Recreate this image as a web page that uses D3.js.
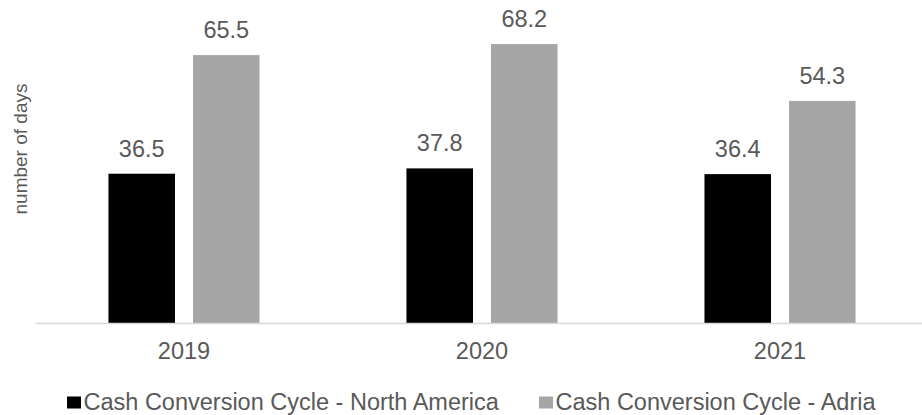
<!DOCTYPE html>
<html>
<head>
<meta charset="utf-8">
<script src="https://cdn.jsdelivr.net/npm/d3@7"></script>
<style>
  html, body { margin: 0; padding: 0; background: #fff; }
  svg { display: block; font-family: "Liberation Sans", Arial, sans-serif; }
</style>
</head>
<body>
<svg id="chart" width="922" height="415"></svg>
<script>
// Cash conversion cycle, in days
const years = ["2019", "2020", "2021"];
const seriesNames = ["Cash Conversion Cycle - North America", "Cash Conversion Cycle - Adria"];
const northAmerica = [36.5, 37.8, 36.4];
const adria = [65.5, 68.2, 54.3];
const seriesColors = ["#000000", "#a6a6a6"];
const yTitle = "number of days";

const svg = d3.select("#chart");
const baseY = 323;
const textColor = "#595959";
const fontSize = 23.5;

const x0 = d3.scaleBand().domain(years).range([35, 929]).paddingInner(0.493).paddingOuter(0.2465);
const x1 = d3.scaleBand().domain(seriesNames).range([0, x0.bandwidth()]).paddingInner(0.213);
const y = d3.scaleLinear().domain([0, 80]).range([baseY, baseY - 80 * 4.09]);

const rows = years.map((yr, i) => ({
  year: yr,
  values: [
    { name: seriesNames[0], value: northAmerica[i], color: seriesColors[0] },
    { name: seriesNames[1], value: adria[i], color: seriesColors[1] }
  ]
}));

// bars
const groups = svg.append("g").selectAll("g").data(rows).join("g")
  .attr("transform", d => `translate(${x0(d.year)},0)`);

groups.selectAll("rect").data(d => d.values).join("rect")
  .attr("x", d => x1(d.name))
  .attr("y", d => y(d.value))
  .attr("width", x1.bandwidth())
  .attr("height", d => baseY - y(d.value))
  .attr("fill", d => d.color);

// value labels
groups.selectAll("text").data(d => d.values).join("text")
  .attr("x", d => x1(d.name) + x1.bandwidth() / 2)
  .attr("y", d => y(d.value) - 17)
  .attr("text-anchor", "middle")
  .attr("font-size", fontSize)
  .attr("fill", textColor)
  .text(d => d.value.toFixed(1));

// category axis
const xAxis = svg.append("g").attr("transform", `translate(0,${baseY})`)
  .call(d3.axisBottom(x0).tickSize(0).tickPadding(19.5));
xAxis.select(".domain").attr("stroke", "#d9d9d9").attr("stroke-width", 1.5);
xAxis.selectAll("text")
  .attr("font-size", fontSize)
  .attr("font-family", "Liberation Sans, Arial, sans-serif")
  .attr("fill", textColor)
  .attr("dy", "0.71em");

// y axis title
svg.append("text")
  .attr("transform", `translate(26.5,149) rotate(-90)`)
  .attr("text-anchor", "middle")
  .attr("font-size", 19)
  .attr("fill", textColor)
  .text(yTitle);

// legend
const legendX = [67, 539];
const legend = svg.append("g").selectAll("g").data(seriesNames).join("g")
  .attr("transform", (d, i) => `translate(${legendX[i]},0)`);
legend.append("rect")
  .attr("x", 0).attr("y", 396.5)
  .attr("width", 14).attr("height", 12)
  .attr("fill", (d, i) => seriesColors[i]);
legend.append("text")
  .attr("x", 16.5).attr("y", 409.5)
  .attr("font-size", fontSize)
  .attr("fill", textColor)
  .text(d => d);
</script>
</body>
</html>
